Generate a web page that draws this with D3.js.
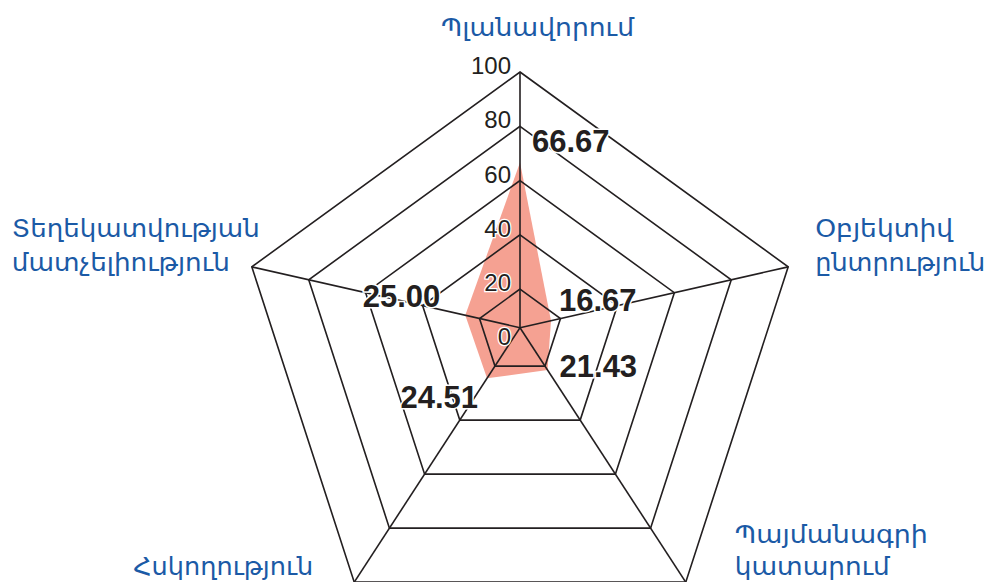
<!DOCTYPE html>
<html>
<head>
<meta charset="utf-8">
<title>Radar</title>
<style>
  body { margin: 0; background: #fff; }
  svg { display: block; }
</style>
</head>
<body>
<svg id="chart" width="990" height="582"></svg>
<script src="https://cdn.jsdelivr.net/npm/d3@7/dist/d3.min.js"></script>
<script>
// data, clockwise from the top axis
var categories = [
  ["Պլանավորում"],
  ["Օբյեկտիվ", "ընտրություն"],
  ["Պայմանագրի", "կատարում"],
  ["Հսկողություն"],
  ["Տեղեկատվության", "մատչելիություն"]
];
var values = [66.67, 16.67, 21.43, 24.51, 25.00];
var ticks = [0, 20, 40, 60, 80, 100];
var rings = [20, 40, 60, 80, 100];

var svg = d3.select("#chart");

// outer pentagon and the hub where the spokes meet
var centre = {x: 520, y: 354}, outerR = 282;
var hub = {x: 520, y: 327.7};

var angle = d3.scaleLinear().domain([0, categories.length]).range([0, 2 * Math.PI]);
// share of the way from the hub to the outer vertex
var frac = d3.scaleLinear().domain([0, 100]).range([-0.0613, 1]);

var vertex = categories.map(function(c, i) {
  var a = angle(i);
  return {x: centre.x + outerR * Math.sin(a), y: centre.y - outerR * Math.cos(a)};
});

function point(i, v) {
  var f = frac(v), V = vertex[i];
  return [hub.x + f * (V.x - hub.x), hub.y + f * (V.y - hub.y)];
}

var line = d3.line();
var ink = "#231f20";

// filled series
svg.append("path")
  .attr("d", line(values.map(function(v, i) { return point(i, v); })) + "Z")
  .attr("fill", "#f5a192");

// rings
svg.append("g").selectAll("path")
  .data(rings)
  .enter().append("path")
    .attr("d", function(r) { return line(categories.map(function(c, i) { return point(i, r); })) + "Z"; })
    .attr("fill", "none")
    .attr("stroke", ink)
    .attr("stroke-width", 1.6)
    .attr("stroke-linejoin", "miter");

// spokes
svg.append("g").selectAll("line")
  .data(vertex)
  .enter().append("line")
    .attr("x1", hub.x).attr("y1", hub.y)
    .attr("x2", function(d) { return d.x; })
    .attr("y2", function(d) { return d.y; })
    .attr("stroke", ink)
    .attr("stroke-width", 1.6);

// tick labels along the top spoke
svg.append("g").selectAll("text")
  .data(ticks)
  .enter().append("text")
    .attr("x", 511)
    .attr("y", function(t) { return point(0, t)[1] + 2; })
    .attr("text-anchor", "end")
    .attr("font-family", "Liberation Sans, Arial, sans-serif")
    .attr("font-size", 24)
    .attr("fill", ink)
    .attr("stroke", "#fff")
    .attr("stroke-width", 2.5)
    .attr("paint-order", "stroke")
    .text(function(t) { return t; });

// value labels, nudged off their points
var nudge = [[12, -10, "start"], [8, -10, "start"], [12, 7, "start"], [-9, 30, "end"], [-25, -8, "end"]];
svg.append("g").selectAll("text")
  .data(values)
  .enter().append("text")
    .attr("x", function(v, i) { return point(i, v)[0] + nudge[i][0]; })
    .attr("y", function(v, i) { return point(i, v)[1] + nudge[i][1]; })
    .attr("text-anchor", function(v, i) { return nudge[i][2]; })
    .attr("font-family", "Liberation Sans, Arial, sans-serif")
    .attr("font-weight", "bold")
    .attr("font-size", 31)
    .attr("fill", ink)
    .attr("stroke", "#fff")
    .attr("stroke-width", 3)
    .attr("paint-order", "stroke")
    .text(function(v) { return d3.format(".2f")(v); });

// axis names, placed from their outer vertex
var nameLayout = [
  {dx: -79, dy: -36, lh: 0, w: [193]},
  {dx: 27, dy: -30, lh: 34, w: [138, 170]},
  {dx: 49, dy: -39, lh: 32, w: [193, 155]},
  {dx: -221, dy: -7, lh: 0, w: [180]},
  {dx: -240, dy: -30, lh: 34, w: [248, 218]}
];

var names = svg.append("g")
  .attr("font-family", "DejaVu Sans, sans-serif")
  .attr("font-size", 25)
  .attr("fill", "#1b5aa6");

categories.forEach(function(lines, i) {
  var L = nameLayout[i], V = vertex[i];
  lines.forEach(function(s, k) {
    names.append("text")
      .attr("x", V.x + L.dx)
      .attr("y", V.y + L.dy + k * L.lh)
      .attr("textLength", L.w[k])
      .attr("lengthAdjust", "spacingAndGlyphs")
      .text(s);
  });
});
</script>
</body>
</html>
